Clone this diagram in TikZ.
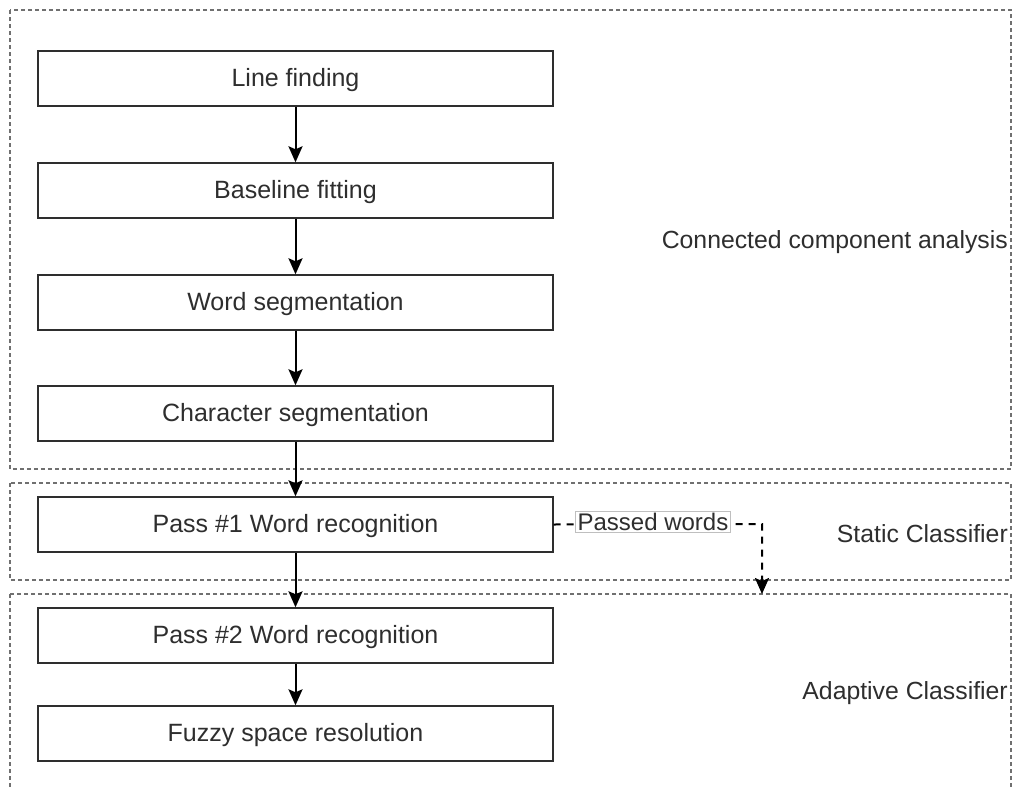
\documentclass[tikz,border=0pt]{standalone}
\usepackage{fontspec}
\setmainfont{Liberation Sans}
\usetikzlibrary{arrows.meta}
\definecolor{ink}{HTML}{2E2E2E}
\definecolor{framegray}{HTML}{707070}
\begin{document}
\begin{tikzpicture}[x=1pt,y=-1pt,
  stage/.style={draw=ink, line width=1.4pt, fill=white, minimum width=515pt,
    minimum height=55pt, inner sep=0pt, text=ink, font=\fontsize{25}{28}\selectfont},
  stagetext/.style={text=ink, inner sep=0pt, font=\fontsize{25}{28}\selectfont},
  groupframe/.style={draw=framegray, line width=1.3pt, dash pattern=on 4pt off 3pt},
  grouplabel/.style={anchor=east, text=ink, inner sep=0pt, font=\fontsize{24.8}{28}\selectfont},
  flow/.style={draw=black, line width=2pt, -{Stealth[length=16pt,width=14pt,inset=3pt]}},
  passflow/.style={draw=black, line width=2pt, dash pattern=on 7pt off 6pt,
    -{Stealth[length=16pt,width=14pt,inset=3pt]}},
  tag/.style={draw=black!25, line width=0.8pt, fill=white, text=ink, inner sep=2pt,
    font=\fontsize{24}{28}\selectfont}]
\useasboundingbox (0,0) rectangle (1013,787);
\clip (0,0) rectangle (1013,787);

% grouping frames
\draw[groupframe] (10,10) rectangle (1011,469);
\draw[groupframe] (10,483) rectangle (1011,580);
\draw[groupframe] (10,594) rectangle (1011,820);

% group captions
\node[grouplabel] (cca) at (1008,242) {Connected component analysis};
\node[grouplabel] (static) at (1008,534) {Static Classifier};
\node[grouplabel] (adaptive) at (1008,693) {Adaptive Classifier};

% processing stages
\node[stage] (line) at (295.5,78.5) {};
\node[stage] (base) at (295.5,190.5) {};
\node[stage] (word) at (295.5,302.5) {};
\node[stage] (char) at (295.5,413.5) {};
\node[stage] (pass1) at (295.5,524.5) {};
\node[stage] (pass2) at (295.5,635.5) {};
\node[stage] (fuzzy) at (295.5,733.5) {};

% stage titles, set a little below the box centres
\node[stagetext] (linet) at ([yshift=-1.5pt]line.center) {Line finding};
\node[stagetext] (baset) at ([yshift=-1.5pt]base.center) {Baseline fitting};
\node[stagetext] (wordt) at ([yshift=-1.5pt]word.center) {Word segmentation};
\node[stagetext] (chart) at ([yshift=-1.5pt]char.center) {Character segmentation};
\node[stagetext] (pass1t) at ([yshift=-1.5pt]pass1.center) {Pass \#1 Word recognition};
\node[stagetext] (pass2t) at ([yshift=-1.5pt]pass2.center) {Pass \#2 Word recognition};
\node[stagetext] (fuzzyt) at ([yshift=-1.5pt]fuzzy.center) {Fuzzy space resolution};

% main flow
\draw[flow] (line) -- (base);
\draw[flow] (base) -- (word);
\draw[flow] (word) -- (char);
\draw[flow] (char) -- (pass1);
\draw[flow] (pass1) -- (pass2);
\draw[flow] (pass2) -- (fuzzy);

% words accepted in the first pass
\coordinate (bend) at (762,524);
\coordinate (adaptin) at (762,594);
\draw[passflow] (pass1.east) -- (bend) -- (adaptin);
\node[tag] (passed) at (653,522) {Passed words};
\end{tikzpicture}
\end{document}
